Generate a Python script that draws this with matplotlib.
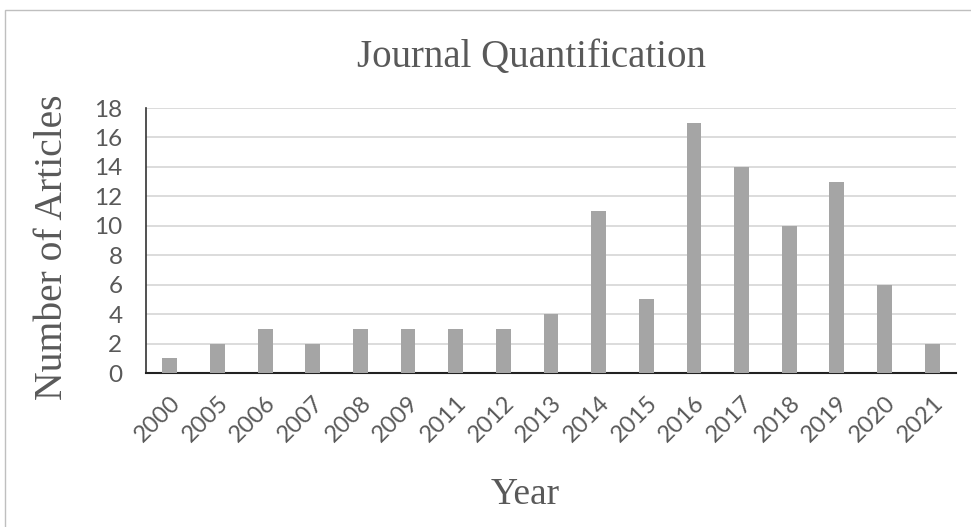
import matplotlib.pyplot as plt
from matplotlib.patches import Rectangle

# Data
years = ['2000', '2005', '2006', '2007', '2008', '2009', '2011', '2012', '2013',
         '2014', '2015', '2016', '2017', '2018', '2019', '2020', '2021']
articles = [1, 2, 3, 2, 3, 3, 3, 3, 4, 11, 5, 17, 14, 10, 13, 6, 2]
yticks = [0, 2, 4, 6, 8, 10, 12, 14, 16, 18]

grey_text = '#595959'
serif = ['Liberation Serif', 'DejaVu Serif']
sans = ['Lato', 'DejaVu Sans']

fig = plt.figure(figsize=(9.71, 5.27), dpi=100)
ax = fig.add_axes([0.1504, 0.2922, 0.8341, 0.5028])

x = range(len(years))
ax.bar(x, articles, width=0.31, color='#a5a5a5', zorder=3)

ax.set_xlim(-0.5, len(years) - 0.5)
ax.set_ylim(0, 18)
ax.set_yticks(yticks)
ax.set_xticks(list(x))
ax.set_xticklabels(years, rotation=45, ha='right', va='top', rotation_mode='anchor',
                   family=sans, fontsize=17, color=grey_text)
for lbl in ax.get_yticklabels():
    lbl.set_family(sans)
    lbl.set_fontsize(17.5)
    lbl.set_color(grey_text)

ax.tick_params(axis='both', length=0)
ax.tick_params(axis='y', pad=17)
ax.tick_params(axis='x', pad=14)
ax.yaxis.grid(True, color='#d9d9d9', lw=1.3, zorder=0)
for s in ['top', 'right']:
    ax.spines[s].set_visible(False)
ax.spines['left'].set_color('#333333')
ax.spines['bottom'].set_color('#222222')
ax.spines['left'].set_linewidth(1.2)
ax.spines['bottom'].set_linewidth(1.5)

fig.text(0.5475, 0.89, 'Journal Quantification', ha='center', va='center',
         family=serif, fontsize=28, color=grey_text)
fig.text(0.054, 0.53, 'Number of Articles', ha='center', va='center', rotation=90,
         family=serif, fontsize=28.5, color=grey_text)
fig.text(0.541, 0.062, 'Year', ha='center', va='center',
         family=serif, fontsize=27, color=grey_text)

# chart border
fig.patches.append(Rectangle((5 / 971, -0.01), 1.0, 1 - 10 / 527 + 0.01,
                             transform=fig.transFigure, fill=False,
                             edgecolor='#bfbfbf', lw=1))

fig.savefig('out.png', dpi=100)
